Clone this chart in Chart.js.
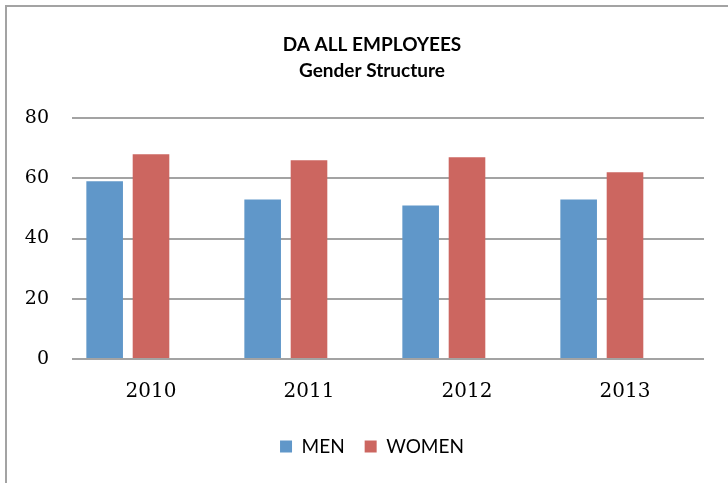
<!DOCTYPE html>
<html>
<head>
<meta charset="utf-8">
<script src="https://cdn.jsdelivr.net/npm/chart.js@4"></script>
<style>
html,body{margin:0;padding:0;background:#fff;}
#wrap{position:relative;width:728px;height:483px;}
</style>
</head>
<body>
<div id="wrap"><canvas id="c" width="728" height="483"></canvas></div>
<script>
const categories = ['2010', '2011', '2012', '2013'];
const menValues = [59, 53, 51, 53];
const womenValues = [68, 66, 67, 62];
const spacerValues = [null, null, null, null];
const yTicks = [0, 20, 40, 60, 80];
const titleLines = ['DA ALL EMPLOYEES', 'Gender Structure'];

const frame = {
  id: 'frame',
  beforeDraw(chart) {
    const ctx = chart.ctx;
    ctx.save();
    ctx.fillStyle = '#ffffff';
    ctx.fillRect(0, 0, chart.width, chart.height);
    ctx.fillStyle = '#a3a3a3';
    ctx.fillRect(5, 5, 2, chart.height - 5);
    ctx.fillRect(5, 5, chart.width - 5, 2);
    ctx.restore();
  }
};

new Chart(document.getElementById('c'), {
  type: 'bar',
  data: {
    labels: categories,
    datasets: [
      { label: 'MEN', data: menValues, backgroundColor: '#6097c9' },
      { label: 'WOMEN', data: womenValues, backgroundColor: '#cc6660' },
      { label: '', data: spacerValues, backgroundColor: 'rgba(0,0,0,0)' }
    ]
  },
  options: {
    responsive: false,
    animation: false,
    devicePixelRatio: 1,
    layout: { padding: { left: 16, right: 0, top: 0, bottom: 17 } },
    datasets: { bar: { categoryPercentage: 0.88, barPercentage: 0.79 } },
    plugins: {
      title: {
        display: true,
        text: titleLines,
        color: '#000',
        font: { family: 'Lato', weight: 'bold', size: 19, lineHeight: 1.37 },
        padding: { top: 32, bottom: 34 }
      },
      legend: {
        position: 'bottom',
        labels: {
          filter: item => item.text !== '',
          boxWidth: 12,
          boxHeight: 12,
          padding: 20,
          color: '#000',
          font: { family: 'Lato', size: 19 }
        }
      },
      tooltip: { enabled: false }
    },
    scales: {
      x: {
        grid: { display: false, drawTicks: false },
        border: { display: false },
        ticks: { color: '#000', padding: 21, font: { family: 'DejaVu Serif', size: 20 } },
        afterFit(s) { s.height = 58; }
      },
      y: {
        min: 0,
        max: 80,
        afterBuildTicks(s) { s.ticks = yTicks.map(v => ({ value: v })); },
        grid: { color: '#a3a3a3', lineWidth: 2, drawTicks: false },
        border: { display: false },
        ticks: { color: '#000', padding: 23, font: { family: 'DejaVu Serif', size: 19 } },
        afterFit(s) { s.width = 56; }
      },
      yRightGap: {
        position: 'right',
        display: true,
        grid: { display: false, drawTicks: false },
        border: { display: false },
        ticks: { display: false },
        afterFit(s) { s.width = 24; }
      }
    }
  },
  plugins: [frame]
});
</script>
</body>
</html>
